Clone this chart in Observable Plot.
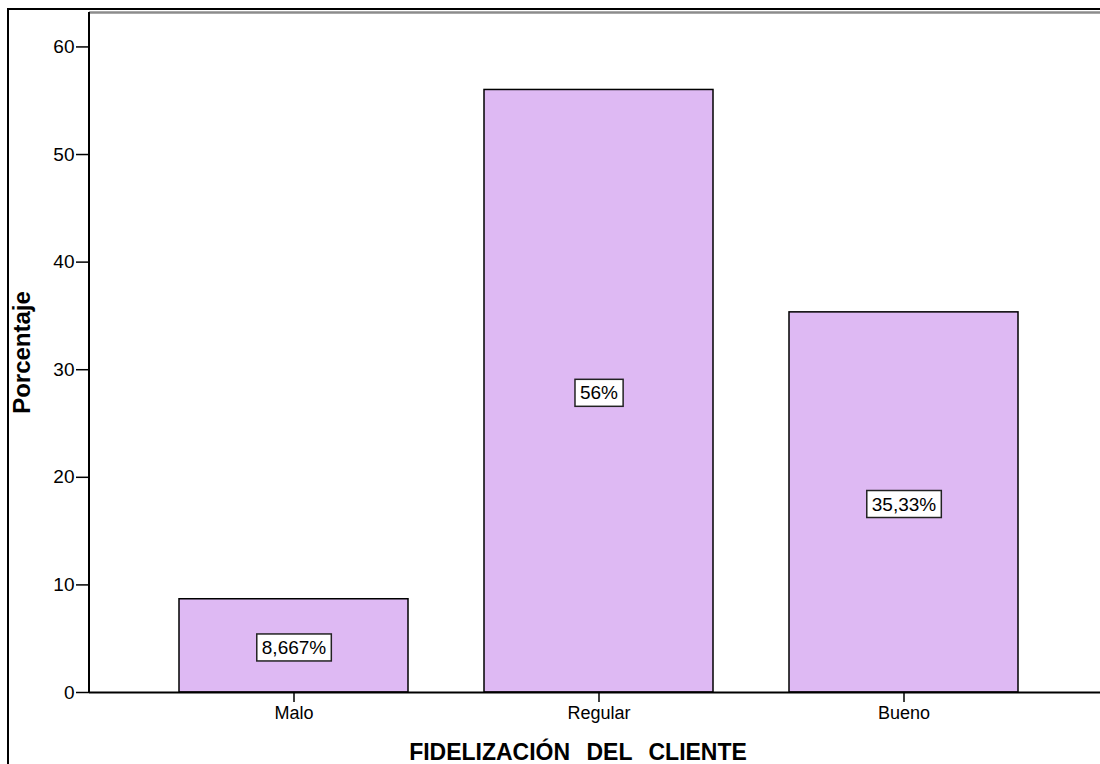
<!DOCTYPE html>
<html>
<head>
<meta charset="utf-8">
<script src="https://cdn.jsdelivr.net/npm/d3@7"></script>
<script src="https://cdn.jsdelivr.net/npm/@observablehq/plot@0.6"></script>
<style>
  html, body { margin: 0; padding: 0; background: #fff; overflow: hidden; }
  #chart { width: 1100px; height: 764px; overflow: hidden; position: relative; }
  #chart svg { display: block; max-width: none; position: absolute; left: 0; top: 0; }
</style>
</head>
<body>
<div id="chart"></div>
<script>
// Fidelización del cliente: share of respondents per level
const categories = ["Malo", "Regular", "Bueno"];
const percentages = [8.667, 56, 35.33];
const yTicks = [0, 10, 20, 30, 40, 50, 60];
const yMax = 63.2;
const xTitle = "FIDELIZACIÓN DEL CLIENTE";
const yTitle = "Porcentaje";

const barFill = "#deb9f3";
const font = "'Liberation Sans', Arial, sans-serif";

const rows = categories.map((c, i) => ({
  category: c,
  value: percentages[i],
  label: String(percentages[i]).replace(".", ",") + "%"
}));

// The panel runs past the right edge of the page, so the drawing is a bit wider than the viewport
const chart = Plot.plot({
  width: 1130,
  height: 764,
  marginLeft: 89,
  marginTop: 12,
  marginBottom: 72,
  marginRight: 22,
  style: { fontFamily: font, color: "#000", background: "#fff" },
  x: { domain: categories, paddingInner: 0.25, paddingOuter: 0.295, label: null },
  y: { domain: [0, yMax], label: null },
  marks: [
    Plot.barY(rows, { x: "category", y: "value", fill: barFill, stroke: "#000", strokeWidth: 1.5 }),
    Plot.ruleY([yMax], { stroke: "#8c8c8c", strokeWidth: 2.5 }),
    Plot.ruleY([0], { stroke: "#000", strokeWidth: 2 }),
    Plot.axisY({ ticks: yTicks, tickSize: 13, tickPadding: 2, fontSize: 19, strokeWidth: 1.5, label: null }),
    Plot.axisX({ tickSize: 10, tickPadding: 4, fontSize: 18, strokeWidth: 1.5, label: null }),
    Plot.text(rows, { x: "category", y: d => d.value / 2, dy: 2, text: "label", fontSize: 19, fill: "#000" }),
    Plot.text([yTitle], { frameAnchor: "left", rotate: -90, dx: -67, textAnchor: "middle",
                          fontSize: 24, fontWeight: "bold", fill: "#000" }),
    Plot.text([xTitle], { frameAnchor: "bottom", dy: 67, dx: -21, textAnchor: "middle",
                          fontSize: 23, fontWeight: "bold", fill: "#000" })
  ]
});

document.getElementById("chart").appendChild(chart);

// Left edge of the plot area, taken from the plot's own scales
const sx = chart.scale("x"), sy = chart.scale("y");
const svg = d3.select(chart);
const left = sx.range[0];
svg.append("line")
  .attr("x1", left).attr("x2", left)
  .attr("y1", sy.range[1]).attr("y2", sy.range[0])
  .attr("stroke", "#000").attr("stroke-width", 2);

// Outer panel border: left and top edges only
const panelLeft = 8, panelTop = 9;
svg.append("path")
  .attr("d", `M${panelLeft},${764 + 10}V${panelTop}H${1130 + 10}`)
  .attr("fill", "none").attr("stroke", "#000").attr("stroke-width", 2);

// White boxes with a dark outline behind the value labels
const labelSet = new Set(rows.map(d => d.label));
chart.querySelectorAll("text").forEach(t => {
  if (!labelSet.has(t.textContent)) return;
  const b = t.getBBox();
  const r = document.createElementNS("http://www.w3.org/2000/svg", "rect");
  const padX = 5, padY = 3;
  r.setAttribute("x", b.x - padX);
  r.setAttribute("y", b.y - padY);
  r.setAttribute("width", b.width + 2 * padX);
  r.setAttribute("height", b.height + 2 * padY);
  r.setAttribute("fill", "#fff");
  r.setAttribute("stroke", "#222");
  r.setAttribute("stroke-width", 1.5);
  const tr = t.getAttribute("transform");
  if (tr) r.setAttribute("transform", tr);
  t.parentNode.insertBefore(r, t);
});

// Wider word gaps in the horizontal title
chart.querySelectorAll("text").forEach(t => {
  if (t.textContent === xTitle) t.style.wordSpacing = "10px";
});
</script>
</body>
</html>
